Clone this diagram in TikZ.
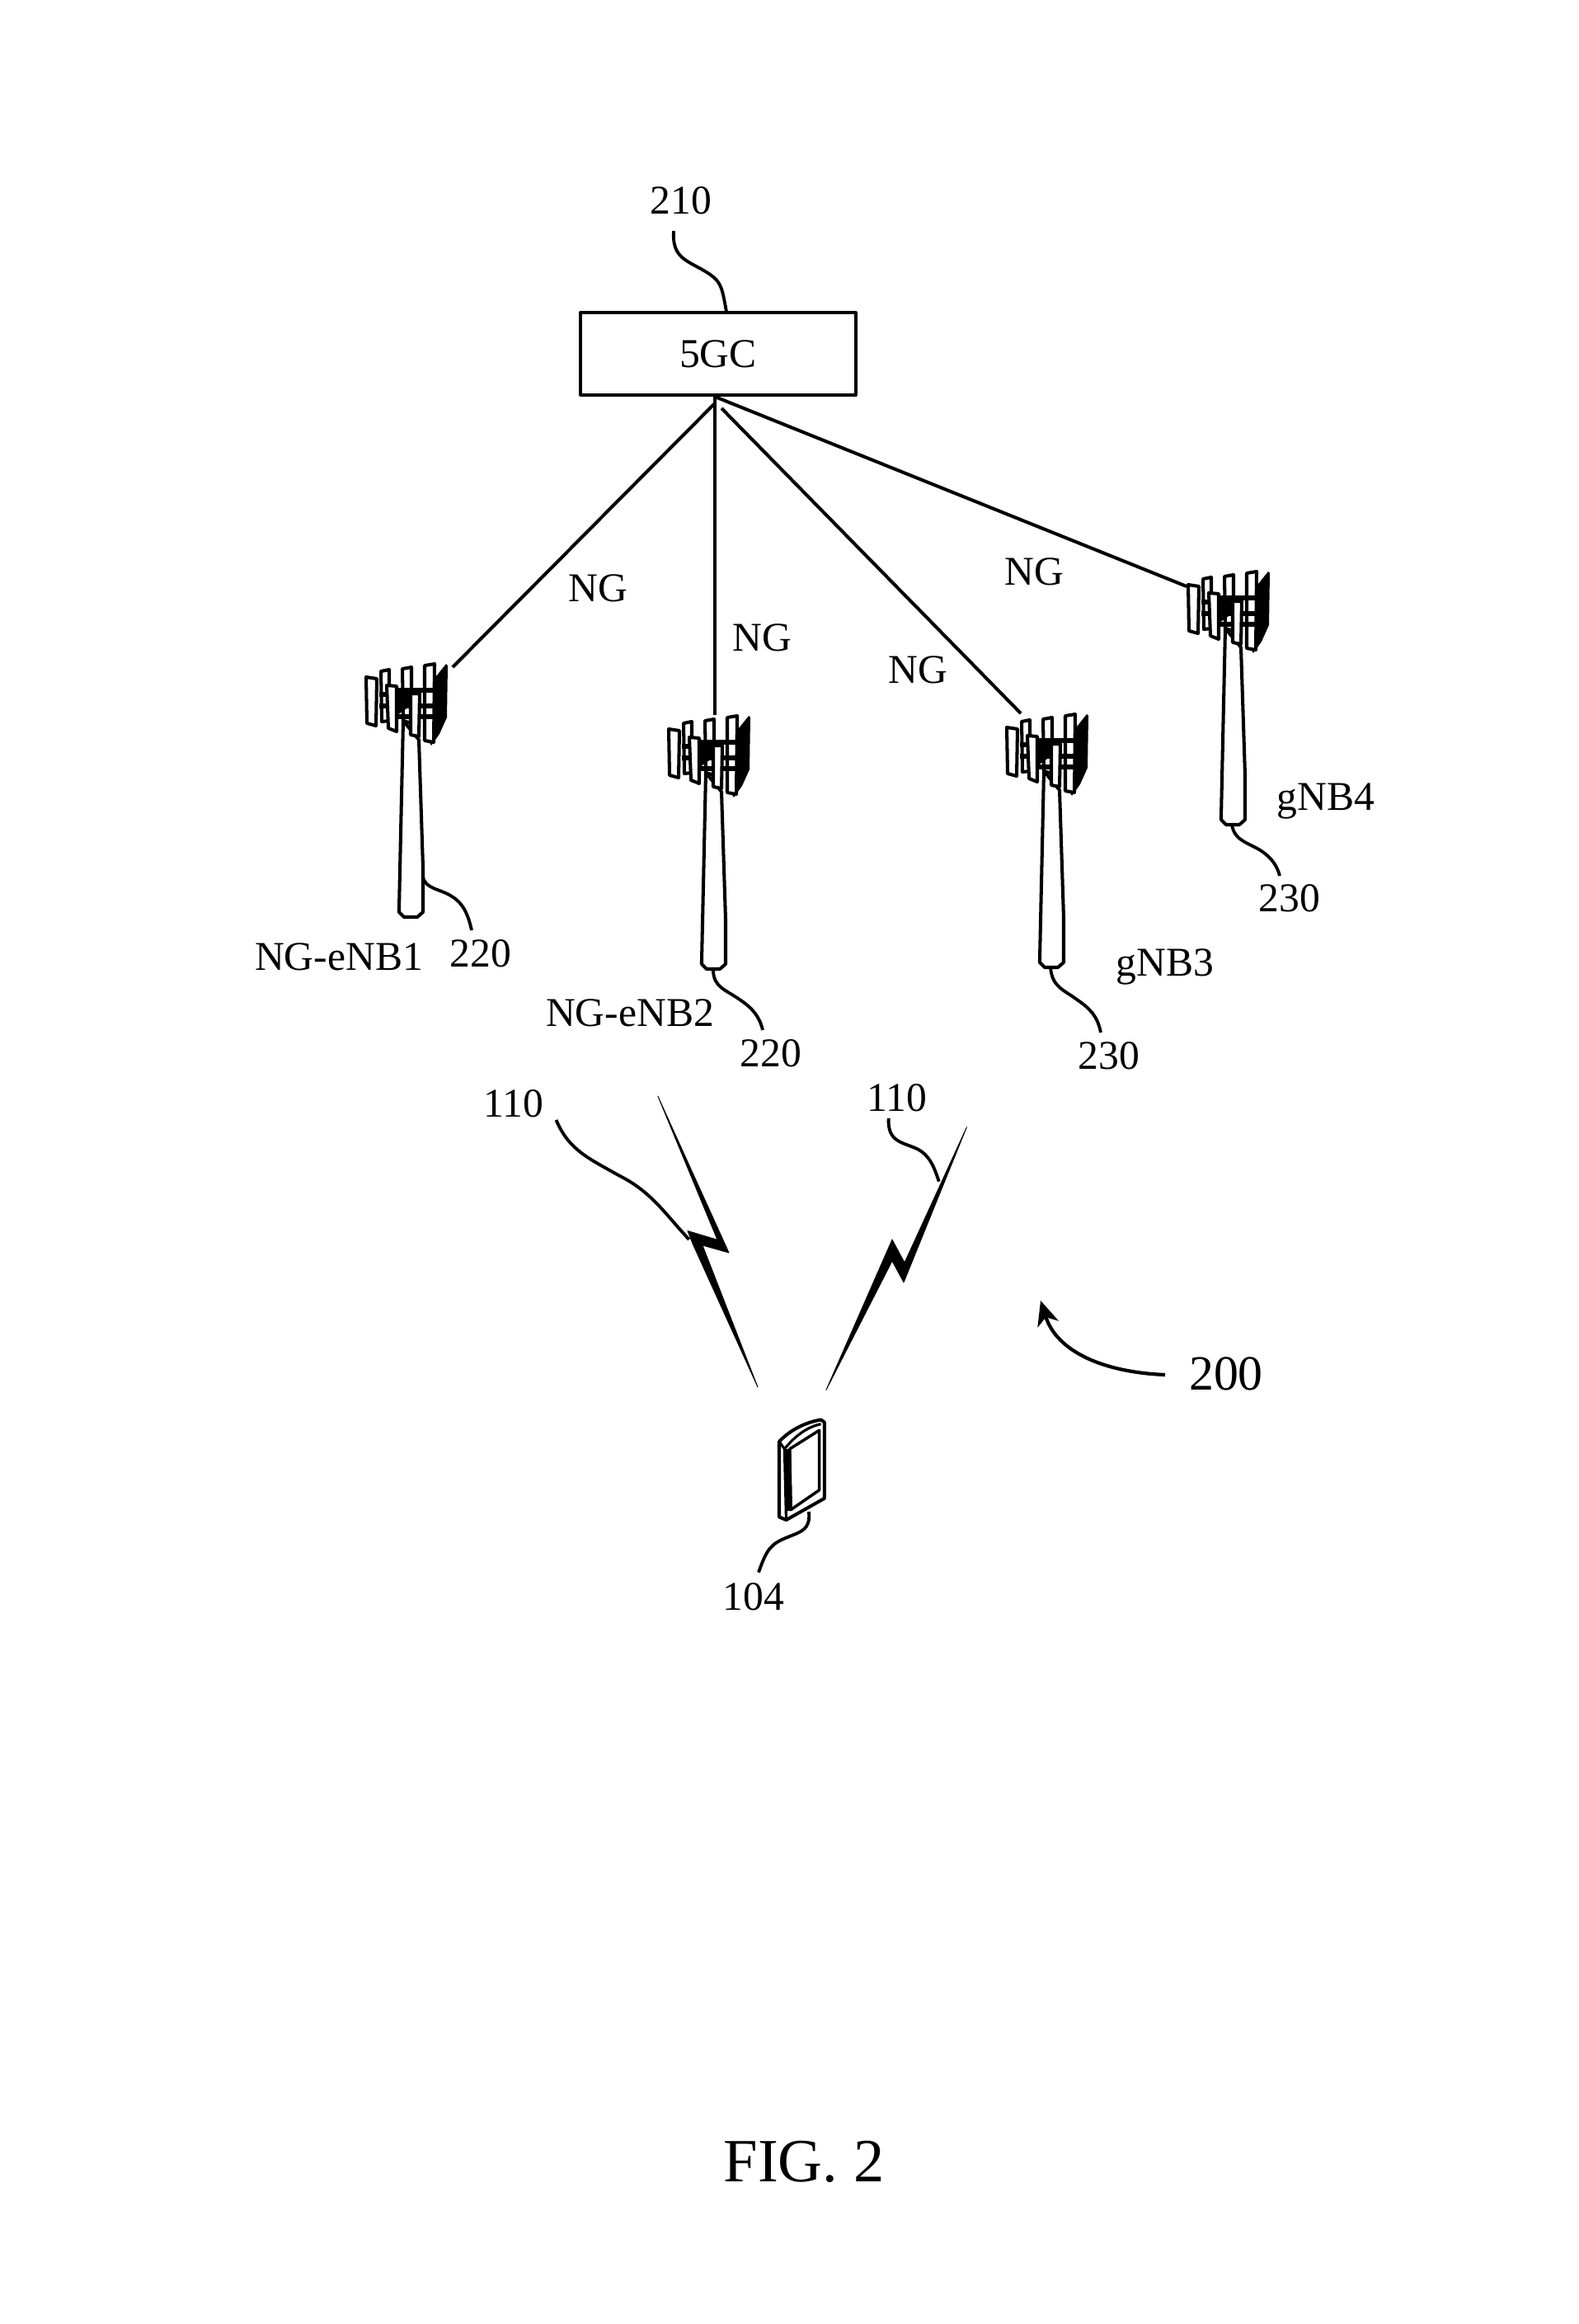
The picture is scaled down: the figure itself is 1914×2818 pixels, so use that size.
\documentclass[tikz,border=0pt]{standalone}
\usepackage{fontspec}
\setmainfont{Liberation Serif}
\usetikzlibrary{arrows.meta}
\tikzset{
  lbl/.style={font=\fontsize{14.1}{16}\selectfont,inner sep=0pt},
  link/.style={line width=1.15pt},
  leader/.style={line width=1.1pt},
  panel/.style={draw,fill=white,line width=1.15pt,line join=round},
  bolt/.style={fill=black,draw=black,line width=0.25pt}
}
\begin{document}
\begin{tikzpicture}[x=0.01cm,y=-0.01cm,line join=round]
  \useasboundingbox (0,0) rectangle (1914,2818);

  % core network
  \node[draw,line width=1.15pt,minimum width=334*0.01cm,minimum height=100*0.01cm,lbl] (core) at (871,429) {5GC};
  \node[lbl] (n210) at (826,243) {210};
  \coordinate (c210) at (881,378);
  \coordinate (hub) at (867,481);
  \draw[leader] (817,280) .. controls (815,310) and (830,315) .. (850,326) .. controls (875,340) and (875,345) .. (c210);

  % towers
  \foreach \n/\tx/\ty in {one/498/1112,two/865/1175,three/1275/1173,four/1495/1000}{
  \begin{scope}[shift={(\tx,\ty)}]
  \draw[panel] (-9,-238) -- (-14,-10) -- (-14,-6) -- (-8,0) -- (8,0) -- (15,-6) -- (15,-60) -- (10,-215) -- cycle;
  \fill (43,-307) -- (45,-305) -- (44,-242) -- (35,-222) -- (25,-208) -- (22,-213) -- (23,-242) -- (24,-275) -- (31,-292) -- cycle;
  \draw[panel] (-36,-298) -- (-26,-300) -- (-26,-238) -- (-35,-237) -- cycle;
  \draw[panel] (-10,-301) -- (1,-303) -- (1,-235) -- (-9,-238) -- cycle;
  \draw[panel] (17,-305) -- (29,-307) -- (28,-212) -- (17,-214) -- cycle;
  \draw[line width=1.8pt] (-38,-270) -- (-20,-270);
  \draw[line width=1.8pt] (-38,-256) -- (-20,-256);
  \draw[line width=1.8pt] (-16,-275) -- (34,-275);
  \draw[line width=1.8pt] (-16,-256) -- (34,-256);
  \draw[line width=1.8pt] (-16,-243) -- (34,-243);
  \fill (-16,-275) -- (-2,-275) -- (-2,-255) -- (-16,-245) -- cycle;
  \draw[panel] (-54,-291) -- (-41,-289) -- (-42,-232) -- (-53,-235) -- cycle;
  \draw[panel] (-29,-281) -- (-17,-280) -- (-17,-225) -- (-27,-229) -- cycle;
  \draw[panel] (0,-271) -- (11,-271) -- (10,-219) -- (0,-221) -- cycle;
  \end{scope}
  }

  % NG links
  \coordinate (endone) at (549,809);
  \coordinate (endtwo) at (867,867);
  \coordinate (endthree) at (1238,865);
  \coordinate (endfour) at (1439,711);
  \draw[link] (866,490) -- (endone);
  \draw[link] (hub) -- (endtwo);
  \draw[link] (875,495) -- (endthree);
  \draw[link] (hub) -- (endfour);
  \node[lbl] (ng1) at (725,713) {NG};
  \node[lbl] (ng2) at (924,773) {NG};
  \node[lbl] (ng3) at (1113,812) {NG};
  \node[lbl] (ng4) at (1254,693) {NG};

  % tower labels
  \node[lbl] (enb1) at (411,1160) {NG-eNB1};
  \node[lbl] (n220a) at (583,1156) {220};
  \node[lbl] (enb2) at (764,1228) {NG-eNB2};
  \node[lbl] (n220b) at (935,1277) {220};
  \node[lbl] (gnb3) at (1413,1172) {gNB3};
  \node[lbl] (n230a) at (1345,1280) {230};
  \node[lbl] (gnb4) at (1608,972) {gNB4};
  \node[lbl] (n230b) at (1564,1089) {230};
  \coordinate (l220a) at (572,1128);
  \coordinate (l220b) at (925,1249);
  \coordinate (l230a) at (1335,1252);
  \coordinate (l230b) at (1552,1062);
  \draw[leader] (513,1063) .. controls (515,1078) and (535,1078) .. (548,1087) .. controls (562,1095) and (568,1110) .. (l220a);
  \draw[leader] (865,1176) .. controls (865,1197) and (880,1200) .. (897,1212) .. controls (912,1222) and (921,1232) .. (l220b);
  \draw[leader] (1274,1173) .. controls (1276,1197) and (1290,1200) .. (1306,1212) .. controls (1322,1223) and (1331,1232) .. (l230a);
  \draw[leader] (1494,1000) .. controls (1497,1020) and (1515,1022) .. (1530,1032) .. controls (1542,1040) and (1549,1050) .. (l230b);

  % radio links
  \fill[bolt] (797.8,1329) -- (884,1519) -- (852,1510) -- (919,1682) -- (840,1508) -- (834,1492.5) -- (870,1503.3) -- cycle;
  \fill[bolt] (1172.4,1366.7) -- (1096,1555) -- (1082,1529) -- (1001.9,1685.5) -- (1082,1503) -- (1097,1531) -- cycle;
  \node[lbl] (n110a) at (623,1338) {110};
  \node[lbl] (n110b) at (1088,1331) {110};
  \draw[leader] (674.5,1358) .. controls (690,1395) and (715,1405) .. (750,1425) .. controls (790,1445) and (805,1470) .. (835.7,1503);
  \draw[leader] (1077.7,1356) .. controls (1076,1385) and (1095,1385) .. (1112,1393) .. controls (1127,1400) and (1133,1415) .. (1138.7,1432.6);

  % UE
  \draw[panel] (945,1748) .. controls (960,1732) and (980,1724) .. (995.6,1721.5) -- (999.8,1724.5) -- (999.8,1816.9) -- (953.5,1843) -- (945,1839.4) -- cycle;
  \draw[line width=0.9pt] (945,1748) -- (951.4,1757) -- (953.5,1843);
  \draw[line width=0.9pt] (951.4,1757) .. controls (965,1740) and (980,1730) .. (995.6,1726.7);
  \draw[line width=1pt] (957.7,1757) -- (993.5,1734.4) -- (993.5,1806.9) -- (959,1830.7) -- cycle;
  \draw[line width=2.2pt] (955.5,1757) -- (957,1832);
  \node[lbl] (n104) at (914,1936) {104};
  \draw[leader] (981,1833) .. controls (983,1855) and (972,1857) .. (955,1864) .. controls (935,1872) and (930,1878) .. (920,1906.6);

  % figure reference
  \node[font=\fontsize{17}{20}\selectfont,inner sep=0pt] (n200) at (1487,1666) {200};
  \coordinate (c200) at (1413,1667);
  \coordinate (t200) at (1262,1577);
  \draw[line width=1.2pt,-{Stealth[length=8.5pt,width=7.5pt,inset=2.5pt]}] (c200) .. controls (1340,1664) and (1282,1640) .. (t200);
  \node[font=\fontsize{21.2}{24}\selectfont,inner sep=0pt] (fig) at (975,2621) {FIG. 2};
\end{tikzpicture}
\end{document}
